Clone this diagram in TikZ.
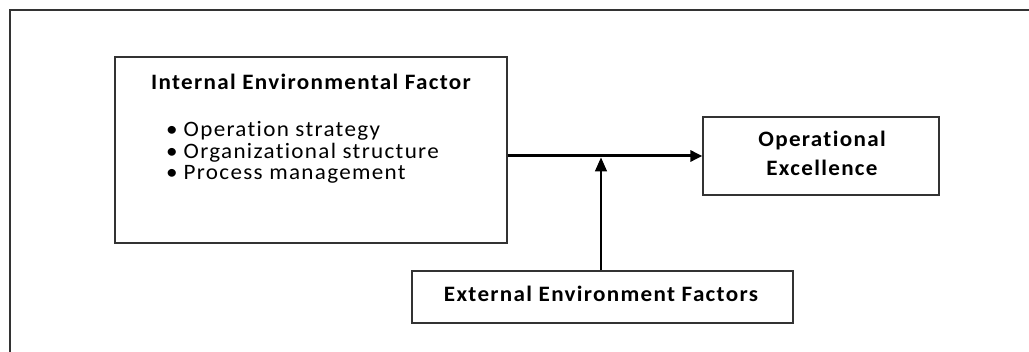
\documentclass[tikz,border=0pt]{standalone}
\usepackage{fontspec}
\setmainfont{Carlito}[FakeStretch=1.05,LetterSpace=6,Ligatures={NoCommon,NoRare,NoDiscretionary}]
\usetikzlibrary{arrows.meta}
\begin{document}
\begin{tikzpicture}[x=1pt,y=-1pt,
  box/.style={draw=black!80,line width=1.3pt,rectangle,inner sep=0pt},
  lbl/.style={inner sep=0pt,font=\fontsize{22}{29}\selectfont\bfseries,align=center},
  item/.style={inner sep=0pt,font=\fontsize{22}{21.5}\selectfont,align=left,anchor=west},
  link/.style={draw=black,-{Triangle[length=12pt,width=11pt]}}]
\useasboundingbox (0,0) rectangle (1029,352);
\fill[white] (0,0) rectangle (1029,352);
\draw[black!80,line width=2pt] (9.5,352) -- (9.5,10) -- (1029,10);
\node[box,minimum width=392pt,minimum height=186pt] (int) at (311,150) {};
\node[lbl] (intt) at (311,82) {Internal Environmental Factor};
\node[item] (i1) at (166,131) {\textbullet\hspace{6pt}Operation strategy};
\node[item] (i2) at (166,153) {\textbullet\hspace{6pt}Organizational structure};
\node[item] (i3) at (166,174) {\textbullet\hspace{6pt}Process management};
\node[box,minimum width=236pt,minimum height=78pt] (oe) at (821,156) {};
\node[lbl] (oet) at (822,153.5) {Operational\\Excellence};
\node[box,minimum width=381pt,minimum height=52pt] (ext) at (602.5,297) {};
\node[lbl] (extt) at (601,294) {External Environment Factors};
\draw[link,line width=3pt] (int.east |- oe.west) -- (oe.west);
\draw[link,line width=1.5pt,-{Triangle[length=14pt,width=12pt]},shorten >=1.5pt] (ext.north -| extt.north) -- (extt.north |- oe.west);
\end{tikzpicture}
\end{document}
